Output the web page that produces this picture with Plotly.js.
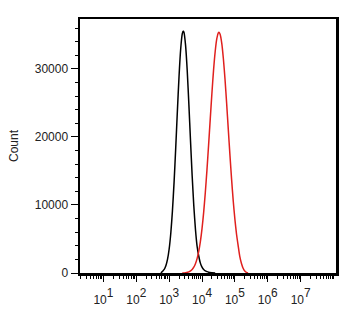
<!DOCTYPE html>
<html>
<head>
<meta charset="utf-8">
<script src="https://cdn.plot.ly/plotly-3.0.1.min.js"></script>
<style>html,body{margin:0;padding:0;background:#fff;}#chart{width:364px;height:314px;}</style>
</head>
<body>
<div id="chart"></div>
<script>
// Fluorescence intensity expressed as decade exponent (log10), and event counts
const blackExp   = [2.75, 2.80, 2.85, 2.90, 2.95, 3.00, 3.05, 3.10, 3.15, 3.20, 3.25, 3.30, 3.35, 3.40, 3.43, 3.45, 3.50, 3.55, 3.60, 3.65, 3.70, 3.75, 3.80, 3.85, 3.90, 3.95, 4.00, 4.05, 4.10, 4.15, 4.20, 4.30, 4.40];
const blackCount = [0, 250, 530, 1060, 1990, 3530, 5850, 9120, 13360, 18380, 23750, 28830, 32860, 35200, 35600, 35420, 33470, 29730, 24800, 19440, 14310, 9900, 6430, 3930, 2500, 1450, 850, 500, 300, 200, 120, 50, 0];

const redExp   = [3.40, 3.50, 3.60, 3.70, 3.75, 3.80, 3.85, 3.90, 3.95, 4.00, 4.05, 4.10, 4.15, 4.20, 4.25, 4.30, 4.35, 4.40, 4.45, 4.50, 4.515, 4.55, 4.60, 4.65, 4.70, 4.75, 4.80, 4.85, 4.90, 4.95, 5.00, 5.05, 5.10, 5.15, 5.20, 5.25, 5.30, 5.35, 5.40];
const redCount = [0, 50, 170, 510, 850, 1360, 2110, 3180, 4620, 6520, 8910, 11810, 15130, 18800, 22620, 26360, 29760, 32540, 34450, 35350, 35400, 35120, 33810, 31510, 28460, 24890, 21090, 17300, 13760, 10590, 7900, 5700, 4000, 2400, 1400, 700, 300, 100, 0];

const xTickVals  = [1e1, 1e2, 1e3, 1e4, 1e5, 1e6, 1e7];
const xTickExp   = ['1', '2', '3', '4', '5', '6', '7'];
const yTickVals  = [0, 10000, 20000, 30000];
const yTickText  = ['0', '10000', '20000', '30000'];
const yTitle     = 'Count';

const toLinear = arr => arr.map(e => Math.pow(10, e));
const xTickText = xTickExp.map(p => '<span style="font-size:12px">10</span><sup>' + p + '</sup>');

const traces = [
  {x: toLinear(blackExp), y: blackCount, type: 'scatter', mode: 'lines',
   line: {color: '#000000', width: 1.5, shape: 'spline', smoothing: 0.6}, hoverinfo: 'skip'},
  {x: toLinear(redExp), y: redCount, type: 'scatter', mode: 'lines',
   line: {color: '#e0201e', width: 1.5, shape: 'spline', smoothing: 0.6}, hoverinfo: 'skip'}
];

const font = {family: '"Liberation Sans", Arial, sans-serif', size: 12, color: '#222'};

const layout = {
  width: 364, height: 314,
  margin: {l: 80, r: 28, t: 19, b: 41, pad: 0},
  paper_bgcolor: '#fff', plot_bgcolor: '#fff',
  showlegend: false,
  font: font,
  xaxis: {
    type: 'log', range: [0.288, 8.076],
    tickmode: 'array', tickvals: xTickVals, ticktext: xTickText,
    ticks: 'outside', ticklen: 6, tickwidth: 1, tickcolor: '#000',
    ticklabelstandoff: 2,
    minor: {dtick: 'D1', ticks: 'outside', ticklen: 3, tickwidth: 1, tickcolor: '#000', showgrid: false},
    showline: true, linecolor: '#000', linewidth: 2.5, mirror: true,
    showgrid: false, zeroline: false,
    tickfont: {family: '"Liberation Sans", Arial, sans-serif', size: 17, color: '#222'}
  },
  yaxis: {
    range: [0, 37350],
    tickmode: 'array', tickvals: yTickVals, ticktext: yTickText,
    ticks: 'outside', ticklen: 7, tickwidth: 1, tickcolor: '#000',
    minor: {dtick: 2000, ticks: 'outside', ticklen: 3, tickwidth: 1, tickcolor: '#000', showgrid: false},
    showline: true, linecolor: '#000', linewidth: 2.5, mirror: true,
    showgrid: false, zeroline: false, tickfont: font,
    title: {text: yTitle, font: font, standoff: 14}
  }
};

Plotly.newPlot('chart', traces, layout, {displayModeBar: false, staticPlot: true});
</script>
</body>
</html>
